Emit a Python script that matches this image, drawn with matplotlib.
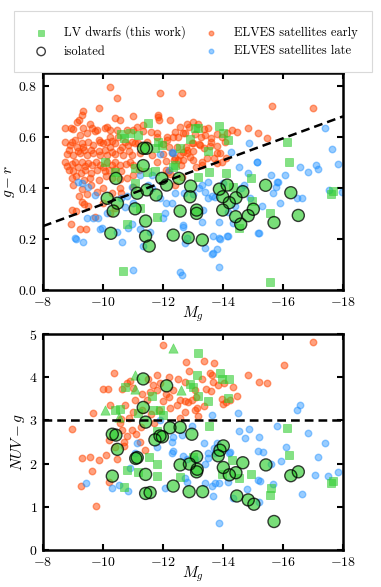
import matplotlib
matplotlib.use("Agg")
import matplotlib.pyplot as plt
import numpy as np

plt.rcParams["font.family"] = "serif"
plt.rcParams["font.serif"] = ["cmr10", "DejaVu Serif"]
plt.rcParams["mathtext.fontset"] = "cm"
plt.rcParams["axes.formatter.use_mathtext"] = True

# ---- top panel: M_g vs g-r ----
early_gr = [
    (-10.23, 0.794), (-10.48, 0.753), (-11.90, 0.770), (-12.62, 0.770), (-9.87, 0.711), (-15.62, 0.722),
    (-16.99, 0.711), (-9.34, 0.700), (-9.29, 0.686), (-9.21, 0.666), (-10.40, 0.672), (-10.99, 0.681),
    (-11.84, 0.678), (-11.88, 0.666), (-10.57, 0.666), (-11.34, 0.646), (-12.23, 0.666), (-12.79, 0.652),
    (-13.01, 0.659), (-9.12, 0.659), (-9.57, 0.652), (-9.62, 0.633), (-8.73, 0.633), (-8.92, 0.633),
    (-9.00, 0.630), (-9.34, 0.633), (-9.73, 0.624), (-10.12, 0.639), (-10.23, 0.626), (-10.46, 0.626),
    (-10.79, 0.626), (-11.01, 0.626), (-11.12, 0.639), (-11.34, 0.624), (-11.59, 0.620), (-11.79, 0.613),
    (-12.12, 0.600), (-12.34, 0.600), (-12.68, 0.613), (-9.23, 0.607), (-9.46, 0.613), (-9.79, 0.626),
    (-10.07, 0.633), (-10.23, 0.600), (-10.51, 0.600), (-11.79, 0.600), (-12.12, 0.587),
    (-8.73, 0.581), (-8.90, 0.568), (-8.96, 0.581), (-9.07, 0.587), (-9.12, 0.560), (-9.29, 0.574),
    (-9.34, 0.561), (-9.51, 0.581), (-9.68, 0.568), (-9.88, 0.587), (-9.90, 0.580), (-10.01, 0.574),
    (-10.12, 0.580), (-10.23, 0.561), (-10.29, 0.585), (-10.40, 0.574), (-10.62, 0.561), (-10.73, 0.580),
    (-10.84, 0.568), (-10.96, 0.580), (-11.07, 0.574), (-11.18, 0.575), (-11.46, 0.580),
    (-8.79, 0.533), (-8.85, 0.550), (-9.01, 0.530), (-9.15, 0.545), (-9.23, 0.535), (-9.35, 0.548),
    (-9.46, 0.530), (-9.60, 0.550), (-9.68, 0.535), (-9.85, 0.545), (-9.90, 0.530), (-10.05, 0.550),
    (-10.12, 0.530), (-10.30, 0.540), (-10.40, 0.533), (-10.55, 0.548), (-10.68, 0.530), (-10.85, 0.545),
    (-10.96, 0.530), (-11.23, 0.535), (-11.62, 0.530), (-12.01, 0.533), (-12.29, 0.535), (-12.57, 0.530),
    (-12.79, 0.535),
    (-8.73, 0.500), (-8.80, 0.485), (-8.95, 0.495), (-9.07, 0.500), (-9.15, 0.480), (-9.30, 0.500),
    (-9.40, 0.485), (-9.50, 0.497), (-9.62, 0.490), (-9.75, 0.500), (-9.90, 0.490), (-10.00, 0.480),
    (-10.12, 0.500), (-10.30, 0.490), (-10.40, 0.500), (-10.55, 0.490), (-10.75, 0.495), (-10.90, 0.500),
    (-11.00, 0.490), (-11.80, 0.500), (-12.10, 0.505), (-12.35, 0.510), (-12.50, 0.510), (-12.60, 0.490),
    (-8.85, 0.470), (-9.00, 0.465), (-9.25, 0.460), (-9.40, 0.470), (-9.60, 0.460), (-9.80, 0.470),
    (-10.05, 0.465), (-10.20, 0.470), (-10.40, 0.475), (-10.60, 0.465), (-11.20, 0.470), (-12.10, 0.470),
    (-8.95, 0.440), (-9.10, 0.445), (-9.35, 0.430), (-9.55, 0.440), (-9.85, 0.430), (-10.10, 0.445),
    (-10.30, 0.440), (-10.55, 0.435), (-10.80, 0.440), (-11.00, 0.450),
    (-9.00, 0.410), (-9.30, 0.395), (-9.60, 0.410), (-10.00, 0.400), (-10.55, 0.400), (-11.00, 0.405),
    (-12.40, 0.410), (-9.20, 0.370), (-9.45, 0.375), (-9.80, 0.385), (-10.30, 0.380), (-10.60, 0.380),
    (-9.30, 0.345), (-9.50, 0.330), (-9.35, 0.335), (-10.00, 0.340), (-10.40, 0.320), (-9.10, 0.310),
    (-8.95, 0.313), (-9.73, 0.287), (-10.23, 0.300), (-9.23, 0.240), (-9.43, 0.240), (-8.93, 0.258),
    (-13.51, 0.633), (-13.40, 0.607), (-13.59, 0.594), (-13.79, 0.610), (-13.96, 0.600), (-14.12, 0.615),
    (-14.29, 0.625), (-14.46, 0.620), (-14.84, 0.633), (-15.18, 0.613), (-15.46, 0.594), (-13.20, 0.570),
    (-13.35, 0.555), (-13.55, 0.565), (-13.45, 0.517), (-13.70, 0.517), (-13.90, 0.535), (-14.10, 0.517),
    (-13.95, 0.500), (-13.30, 0.500), (-13.10, 0.480), (-12.90, 0.520), (-12.75, 0.560), (-12.95, 0.575),
    (-13.05, 0.610), (-12.85, 0.640), (-13.15, 0.650), (-13.00, 0.545), (-12.65, 0.540), (-12.45, 0.560),
    (-12.20, 0.560), (-12.00, 0.570), (-12.40, 0.620), (-12.55, 0.640), (-13.60, 0.580), (-13.80, 0.565),
    (-14.05, 0.580), (-13.35, 0.630), (-13.25, 0.600), (-11.84, 0.685), (-12.51, 0.600), (-12.73, 0.613),
    (-13.01, 0.574), (-13.23, 0.568), (-12.79, 0.548), (-13.79, 0.535), (-13.79, 0.496), (-12.40, 0.515),
    (-12.68, 0.509), (-13.01, 0.509), (-13.29, 0.489), (-12.62, 0.444), (-12.18, 0.463), (-12.23, 0.454),
]

late_gr = [
    (-17.40, 0.633), (-17.62, 0.551), (-17.84, 0.492), (-17.09, 0.489), (-17.18, 0.472), (-16.57, 0.480),
    (-16.84, 0.463), (-16.07, 0.450), (-15.59, 0.450), (-15.81, 0.424), (-15.77, 0.402), (-15.68, 0.381),
    (-15.14, 0.500), (-14.54, 0.480), (-14.84, 0.457), (-14.88, 0.577), (-14.27, 0.541), (-14.70, 0.411),
    (-13.51, 0.424), (-13.20, 0.400), (-13.40, 0.385), (-13.00, 0.375), (-13.73, 0.365), (-13.62, 0.370),
    (-14.18, 0.306), (-14.34, 0.261), (-13.88, 0.267), (-13.88, 0.202), (-14.16, 0.213), (-13.66, 0.213),
    (-13.40, 0.163), (-13.66, 0.143), (-13.79, 0.159), (-13.88, 0.091), (-15.21, 0.222), (-16.62, 0.361),
    (-16.48, 0.361), (-15.90, 0.339), (-13.34, 0.313), (-17.54, 0.392), (-17.95, 0.385), (-15.12, 0.502),
    (-15.84, 0.424), (-12.34, 0.535), (-11.90, 0.532),
    (-9.10, 0.198), (-9.32, 0.189), (-9.96, 0.241), (-9.68, 0.281), (-9.84, 0.281), (-9.46, 0.281),
    (-10.46, 0.228), (-10.62, 0.189), (-10.82, 0.241), (-11.23, 0.238), (-11.57, 0.228), (-11.32, 0.172),
    (-10.99, 0.078), (-12.07, 0.300), (-12.29, 0.339), (-12.68, 0.248), (-12.79, 0.202), (-13.29, 0.265),
    (-13.64, 0.141), (-12.57, 0.072), (-12.62, 0.059), (-13.90, 0.198), (-14.14, 0.211), (-15.18, 0.222),
    (-9.18, 0.424), (-9.29, 0.418), (-9.51, 0.402), (-9.73, 0.372), (-11.23, 0.450), (-12.31, 0.541),
    (-11.64, 0.450), (-10.96, 0.404), (-11.62, 0.398), (-12.70, 0.378), (-10.73, 0.326), (-10.96, 0.257),
    (-12.68, 0.254), (-12.73, 0.183), (-9.07, 0.202), (-9.90, 0.240), (-10.12, 0.300),
    (-10.60, 0.360), (-10.80, 0.370), (-11.90, 0.360), (-12.10, 0.340), (-12.40, 0.380), (-12.00, 0.280),
    (-11.00, 0.340), (-11.50, 0.410), (-12.20, 0.470), (-13.30, 0.410), (-13.50, 0.360), (-14.00, 0.420),
    (-14.40, 0.330), (-14.60, 0.400), (-14.90, 0.360), (-15.30, 0.330),
]

lv_gr = [
    (-11.51, 0.655), (-10.70, 0.597), (-10.90, 0.615), (-11.18, 0.607), (-11.84, 0.581), (-11.96, 0.568),
    (-11.73, 0.555), (-12.57, 0.557), (-12.90, 0.592), (-13.07, 0.633), (-13.18, 0.633), (-10.07, 0.500),
    (-11.07, 0.479), (-11.73, 0.466), (-11.46, 0.463), (-12.34, 0.483), (-13.18, 0.444), (-11.07, 0.418),
    (-11.23, 0.320), (-11.79, 0.287), (-10.79, 0.258), (-10.68, 0.076), (-13.88, 0.642), (-14.01, 0.613),
    (-14.18, 0.587), (-13.49, 0.544), (-16.14, 0.581), (-16.21, 0.502), (-13.54, 0.463), (-14.10, 0.459),
    (-14.93, 0.437), (-14.32, 0.404), (-14.96, 0.350), (-15.57, 0.303), (-14.54, 0.241), (-17.66, 0.389),
    (-17.59, 0.376), (-15.57, 0.033), (-12.40, 0.489), (-10.60, 0.610), (-10.40, 0.463),
]

iso_gr = [
    (-11.35, 0.555), (-11.45, 0.555), (-11.34, 0.487), (-10.43, 0.437), (-10.14, 0.359), (-10.48, 0.340),
    (-10.34, 0.309), (-11.14, 0.379), (-11.07, 0.318), (-11.46, 0.392), (-11.77, 0.372), (-11.96, 0.437),
    (-12.12, 0.411), (-12.53, 0.437), (-11.42, 0.270), (-10.26, 0.222), (-11.42, 0.211), (-11.54, 0.172),
    (-12.34, 0.215), (-12.84, 0.205), (-12.57, 0.309), (-12.92, 0.407), (-12.90, 0.365), (-13.12, 0.313),
    (-13.12, 0.300), (-13.31, 0.196), (-13.88, 0.395), (-13.99, 0.365), (-14.14, 0.411), (-14.21, 0.342),
    (-13.99, 0.313), (-14.43, 0.361), (-14.66, 0.385), (-14.42, 0.287), (-14.59, 0.258), (-14.84, 0.291),
    (-15.01, 0.316), (-15.42, 0.410), (-15.70, 0.264), (-16.26, 0.381), (-16.51, 0.292),
]

# ---- bottom panel: M_g vs NUV-g ----
early_nuv = [
    (-12.01, 4.75), (-12.76, 4.36), (-10.38, 4.09), (-10.01, 3.73), (-10.16, 3.73), (-10.62, 3.73),
    (-10.79, 3.87), (-10.90, 3.92), (-11.68, 3.82), (-11.79, 3.70), (-11.90, 3.87), (-12.34, 3.70),
    (-12.73, 3.90), (-12.57, 3.47), (-12.73, 3.45), (-12.84, 3.43), (-12.96, 3.47), (-11.46, 3.47),
    (-11.07, 3.47), (-10.23, 3.36), (-10.73, 3.36), (-9.68, 3.16), (-12.23, 3.28), (-12.73, 3.20),
    (-8.96, 2.79), (-10.59, 3.03), (-10.96, 2.78), (-10.62, 2.78), (-11.23, 2.51), (-10.70, 2.51),
    (-10.70, 2.41), (-10.40, 2.39), (-11.40, 2.31), (-9.57, 2.15), (-9.88, 2.08), (-9.62, 1.83),
    (-9.27, 1.48), (-10.20, 1.57), (-9.77, 1.03),
    (-16.99, 4.82), (-16.04, 4.28), (-13.37, 4.37), (-13.70, 4.34), (-14.84, 4.05), (-15.20, 3.88),
    (-15.48, 3.87), (-13.57, 4.09), (-13.62, 4.05), (-13.84, 3.82), (-14.04, 3.86), (-14.32, 3.77),
    (-13.66, 3.90), (-13.43, 3.72), (-13.59, 3.67), (-14.48, 3.56), (-13.96, 3.49), (-14.10, 3.43),
    (-14.23, 3.47), (-14.01, 3.38), (-13.10, 3.55), (-13.05, 3.70), (-13.07, 3.24), (-13.13, 3.28),
    (-13.37, 3.33), (-13.15, 3.10),
    (-11.00, 3.75), (-11.30, 3.60), (-11.55, 3.65), (-12.10, 3.60), (-12.00, 3.45), (-11.85, 3.25),
    (-11.60, 3.15), (-11.30, 3.25), (-11.00, 3.20), (-10.85, 3.05), (-12.45, 3.35), (-12.20, 3.55),
    (-12.55, 3.05), (-11.70, 2.95), (-11.25, 2.85), (-11.50, 3.95), (-11.80, 4.05), (-12.20, 4.00),
    (-12.50, 3.95), (-12.85, 4.15), (-13.30, 3.95), (-10.55, 2.95), (-10.80, 2.65), (-11.10, 2.68),
    (-10.20, 2.55), (-10.45, 2.10), (-9.30, 2.13), (-10.10, 2.20),
]

late_nuv = [
    (-16.57, 3.36), (-16.48, 3.23), (-14.51, 3.16), (-13.62, 3.13), (-15.81, 2.88), (-16.82, 2.70),
    (-14.54, 2.75), (-14.88, 2.79), (-14.73, 2.59), (-15.21, 2.61), (-17.40, 2.47), (-17.18, 2.15),
    (-16.09, 2.38), (-15.92, 2.06), (-15.16, 2.30), (-15.34, 2.28), (-15.60, 2.00), (-17.07, 1.74),
    (-17.51, 1.72), (-17.84, 1.80), (-15.18, 1.62), (-15.22, 1.60), (-15.68, 1.52), (-16.64, 1.30),
    (-15.21, 1.12), (-13.88, 0.62), (-13.79, 2.47), (-13.70, 2.35), (-13.73, 2.25), (-13.51, 2.25),
    (-13.37, 2.48), (-14.23, 2.28), (-14.20, 2.24), (-13.50, 2.14), (-13.07, 2.10), (-13.40, 2.00),
    (-13.73, 1.56), (-13.88, 1.54), (-13.62, 1.48), (-13.40, 1.54), (-14.18, 1.58), (-14.81, 1.41),
    (-14.34, 1.20), (-13.66, 1.26), (-12.98, 2.87),
    (-9.43, 1.54), (-10.29, 1.43), (-10.54, 1.50), (-10.82, 1.37), (-12.07, 1.44), (-11.07, 2.24),
    (-11.12, 2.47), (-11.79, 2.39), (-10.90, 1.89), (-12.29, 2.51), (-12.34, 2.62), (-12.32, 2.30),
    (-12.29, 2.24), (-12.62, 2.66), (-12.66, 2.18), (-12.79, 2.10), (-12.73, 1.66), (-12.79, 1.58),
    (-11.90, 3.00),
]

lv_nuv = [
    (-13.18, 4.55), (-13.12, 4.05), (-12.90, 3.84), (-12.99, 3.78), (-13.18, 3.56), (-10.73, 3.77),
    (-11.64, 3.56), (-10.40, 3.23), (-10.57, 3.26), (-11.18, 3.16), (-11.68, 3.24), (-11.90, 3.24),
    (-12.01, 3.13), (-11.79, 2.76), (-11.54, 2.16), (-11.79, 2.00), (-11.79, 1.72), (-10.79, 1.85),
    (-11.18, 1.81), (-10.70, 1.47), (-12.57, 1.70), (-13.01, 2.16), (-13.90, 4.10), (-13.98, 3.97),
    (-14.21, 3.96), (-13.49, 3.46), (-14.16, 3.53), (-13.54, 2.88), (-16.14, 2.82), (-16.21, 2.20),
    (-14.29, 2.08), (-14.93, 1.76), (-14.54, 1.66), (-13.96, 1.75), (-15.60, 1.44), (-15.57, 1.27),
    (-17.66, 1.60), (-17.59, 1.54),
]

lv_nuv_limits = [
    (-12.34, 4.67), (-11.07, 4.05), (-11.07, 3.72), (-12.60, 3.70), (-10.07, 3.24), (-10.54, 3.07),
]

iso_nuv = [
    (-11.34, 3.96), (-12.12, 3.80), (-11.34, 3.30), (-11.42, 2.96), (-12.23, 2.83), (-10.31, 2.68),
    (-10.43, 2.66), (-10.48, 2.33), (-11.90, 2.64), (-11.98, 2.62), (-11.73, 2.55), (-12.57, 2.84),
    (-12.96, 2.68), (-11.09, 2.12), (-11.14, 2.14), (-11.42, 1.75), (-10.31, 1.71), (-11.42, 1.31),
    (-11.57, 1.33), (-12.34, 1.48), (-12.57, 1.97), (-12.88, 1.99), (-12.87, 1.35), (-13.12, 2.16),
    (-13.14, 1.87), (-13.12, 1.81), (-13.32, 1.35), (-14.01, 2.41), (-13.90, 2.31), (-13.84, 2.18),
    (-14.01, 1.91), (-14.21, 1.74), (-14.43, 1.79), (-14.66, 2.02), (-15.43, 1.97), (-14.46, 1.25),
    (-14.84, 1.16), (-15.03, 1.06), (-15.70, 0.66), (-16.26, 1.72), (-16.51, 1.81),
]

# dividing lines
cut_gr_mg = [-8, -18]
cut_gr = [0.25, 0.68]
cut_nuv = 3.0

EARLY = "orangered"
LATE = "dodgerblue"
GREEN = "limegreen"


def xy(pairs):
    arr = np.array(pairs)
    return arr[:, 0], arr[:, 1]


def style_axes(ax):
    for s in ax.spines.values():
        s.set_linewidth(1.8)
    ax.tick_params(direction="in", top=True, right=True, length=4, width=1.5,
                   labelsize=10, pad=4)
    ax.set_xlim(-8, -18)
    ax.set_xticks([-8, -10, -12, -14, -16, -18])
    ax.set_xlabel(r"$M_g$", fontsize=11, labelpad=-3)


def draw_panel(ax, early, late, lv, iso, limits=None, label=False):
    ax.scatter(*xy(early), s=22, color=EARLY, alpha=0.5, linewidths=1.0, zorder=2,
               label="ELVES satellites early" if label else None)
    ax.scatter(*xy(late), s=22, color=LATE, alpha=0.45, linewidths=1.0, zorder=2,
               label="ELVES satellites late" if label else None)
    ax.scatter(*xy(lv), s=40, marker="s", color=GREEN, alpha=0.6, linewidths=0.5, zorder=3,
               label="LV dwarfs (this work)" if label else None)
    if limits is not None:
        ax.scatter(*xy(limits), s=45, marker="^", color=GREEN, alpha=0.6, linewidths=0.5, zorder=3)
    ax.scatter(*xy(iso), s=75, facecolors=GREEN, edgecolors="none", alpha=0.65, zorder=4)
    ax.scatter(*xy(iso), s=75, facecolors="none", edgecolors="k", linewidths=1.0, alpha=0.75,
               zorder=4, label="isolated" if label else None)


fig = plt.figure(figsize=(3.81, 5.87), dpi=100, facecolor="white")
ax1 = fig.add_axes([0.1129, 0.506, 0.7874, 0.3697])
ax2 = fig.add_axes([0.1129, 0.063, 0.7874, 0.368])

draw_panel(ax1, early_gr, late_gr, lv_gr, iso_gr, label=True)
ax1.plot(cut_gr_mg, cut_gr, color="k", lw=1.8, ls=(0, (3.5, 2)), zorder=6)
style_axes(ax1)
ax1.set_ylim(0, 0.85)
ax1.set_yticks([0.0, 0.2, 0.4, 0.6, 0.8])
ax1.set_ylabel(r"$g-r$", fontsize=11, labelpad=1)

draw_panel(ax2, early_nuv, late_nuv, lv_nuv, iso_nuv, limits=lv_nuv_limits)
ax2.axhline(cut_nuv, color="k", lw=1.8, ls=(0, (3.5, 2)), zorder=6)
style_axes(ax2)
ax2.set_ylim(0, 5)
ax2.set_yticks([0, 1, 2, 3, 4, 5])
ax2.set_ylabel(r"$NUV-g$", fontsize=11, labelpad=1)

handles, labels = ax1.get_legend_handles_labels()
order = [labels.index(l) for l in ["LV dwarfs (this work)", "isolated",
                                   "ELVES satellites early", "ELVES satellites late"]]
leg = fig.legend([handles[i] for i in order], [labels[i] for i in order],
                 ncol=2, loc="upper left", mode="expand",
                 bbox_to_anchor=(8 / 381, 0.889, 370 / 381, 0.1025),
                 fontsize=9, markerscale=0.7, borderpad=1.15, labelspacing=0.5,
                 handletextpad=0.8, fancybox=False, edgecolor="0.85", framealpha=1)
leg.get_frame().set_linewidth(0.8)

fig.savefig("out.png", dpi=100, facecolor="white")
